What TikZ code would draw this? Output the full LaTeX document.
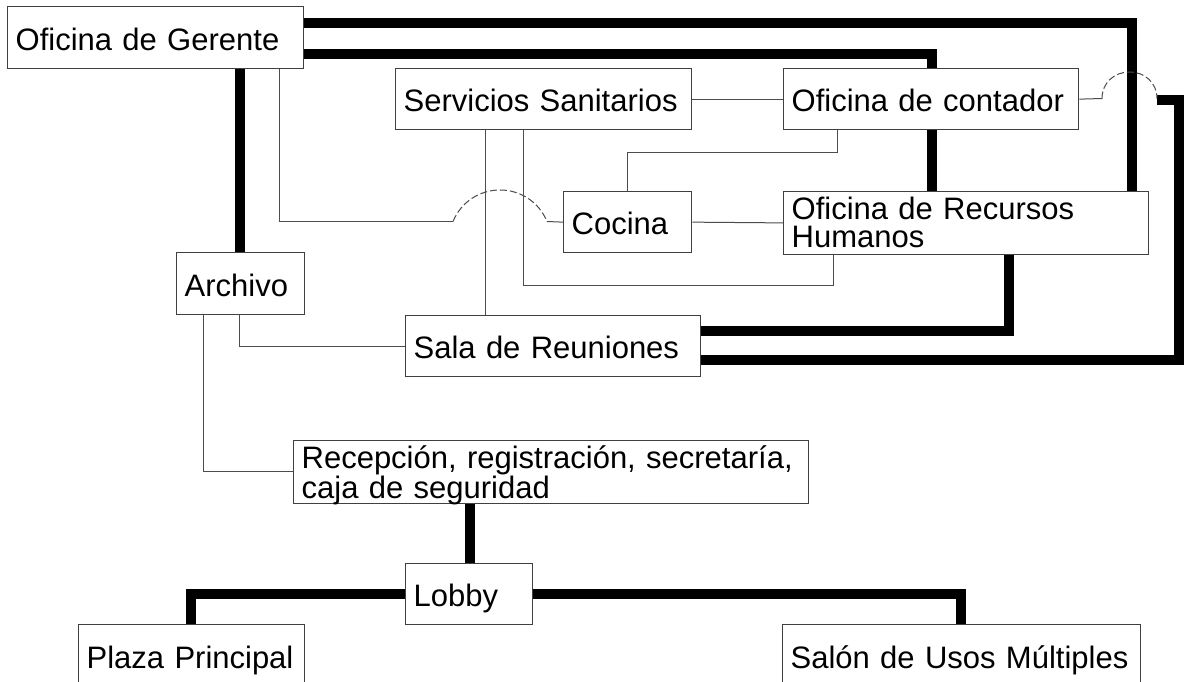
\documentclass[tikz,border=0pt]{standalone}
\usepackage{fontspec}
\setmainfont{Liberation Sans}
\usetikzlibrary{calc}
\pgfdeclarelayer{bg}
\pgfsetlayers{bg,main}
\tikzset{
  room/.style={draw=black!75, line width=1.3pt, fill=white, anchor=north west,
    inner xsep=8pt, inner ysep=0pt, align=left,
    font=\fontsize{31}{28}\selectfont, text height=27.5pt, text depth=2.5pt},
  tworow/.style={text depth=35pt},
  thinlink/.style={draw=black!70, line width=1pt},
  thicklink/.style={draw=black, line width=10.5pt, line join=miter, line cap=butt},
  jumplink/.style={draw=black!70, line width=1pt, dash pattern=on 7pt off 3pt}
}
\begin{document}
\begin{tikzpicture}[x=1pt,y=-1pt]
\useasboundingbox (0,0) rectangle (1184,682);
\begin{pgfonlayer}{bg}
\fill[white] (0,0) rectangle (1184,682);
\end{pgfonlayer}

% rooms
\node[room, minimum width=296pt, minimum height=62pt, text width=280pt] (g)  at (7,6)    {Oficina de Gerente};
\node[room, minimum width=296pt, minimum height=61pt, text width=280pt] (ss) at (395,68) {Servicios Sanitarios};
\node[room, minimum width=295pt, minimum height=61pt, text width=279pt] (oc) at (783,68) {Oficina de contador};
\node[room, minimum width=128pt, minimum height=61pt, text width=112pt] (co) at (563,191) {Cocina};
\node[room, tworow, minimum width=365pt, minimum height=61pt, text width=349pt] (rh) at (783,191) {Oficina de Recursos\\Humanos};
\node[room, minimum width=128pt, minimum height=62pt, text width=112pt] (ar) at (176,252) {Archivo};
\node[room, minimum width=295pt, minimum height=61pt, text width=279pt] (sr) at (405,315) {Sala de Reuniones};
\node[room, tworow, minimum width=515pt, minimum height=61pt, text width=499pt] (re) at (293,440) {Recepción, registración, secretaría,\\caja de seguridad};
\node[room, minimum width=127pt, minimum height=61pt, text width=111pt] (lo) at (405,563) {Lobby};
\node[room, minimum width=226pt, minimum height=62pt, text width=210pt] (pp) at (78,624) {Plaza Principal};
\node[room, minimum width=358pt, minimum height=62pt, text width=342pt] (sm) at (782,624) {Salón de Usos Múltiples};

\begin{pgfonlayer}{bg}
% thick links
\draw[thicklink] (g.east |- 0,23) -| (1132,0 |- rh.north);
\draw[thicklink] (g.east |- 0,54) -| (932,0 |- rh.north);
\draw[thicklink] (240,0 |- g.south) -- (240,0 |- ar.north);
\draw[thicklink] (1009,0 |- rh.south) |- (sr.east |- 0,331);
\draw[thicklink] (1157,100) -| (1179.5,360) -- (sr.east |- 0,360);
\draw[thicklink] (470,0 |- re.south) -- (470,0 |- lo.north);
\draw[thicklink] (lo.west) -| (191,0 |- pp.north);
\draw[thicklink] (lo.east) -| (961,0 |- sm.north);
% thin links
\draw[thinlink] (279,0 |- g.south) |- (453,221.5);
\draw[jumplink] (453,221.5) .. controls (461,202) and (479.5,190) .. (500,190)
                 .. controls (520.5,190) and (539,202) .. (547,221.5);
\draw[thinlink] (547,221.5) -- (co.west);
\draw[thinlink] (485,0 |- ss.south) -- (485,0 |- sr.north);
\draw[thinlink] (523,0 |- ss.south) |- (833,285) -- (833,0 |- rh.south);
\draw[thinlink] (ss.east) -- (oc.west);
\draw[thinlink] (837,0 |- oc.south) |- (627,153) -- (627,0 |- co.north);
\draw[thinlink] (co.east) -- (rh.west);
\draw[thinlink] (oc.east) -- (1102,98.5);
\draw[jumplink] (1102,98.5) .. controls (1102,83) and (1114,72) .. (1129.5,72)
                 .. controls (1145,72) and (1157,83) .. (1157,98.5);
\draw[thinlink] (239,0 |- ar.south) |- (sr.west);
\draw[thinlink] (203,0 |- ar.south) |- (re.west);
\end{pgfonlayer}
\end{tikzpicture}
\end{document}
